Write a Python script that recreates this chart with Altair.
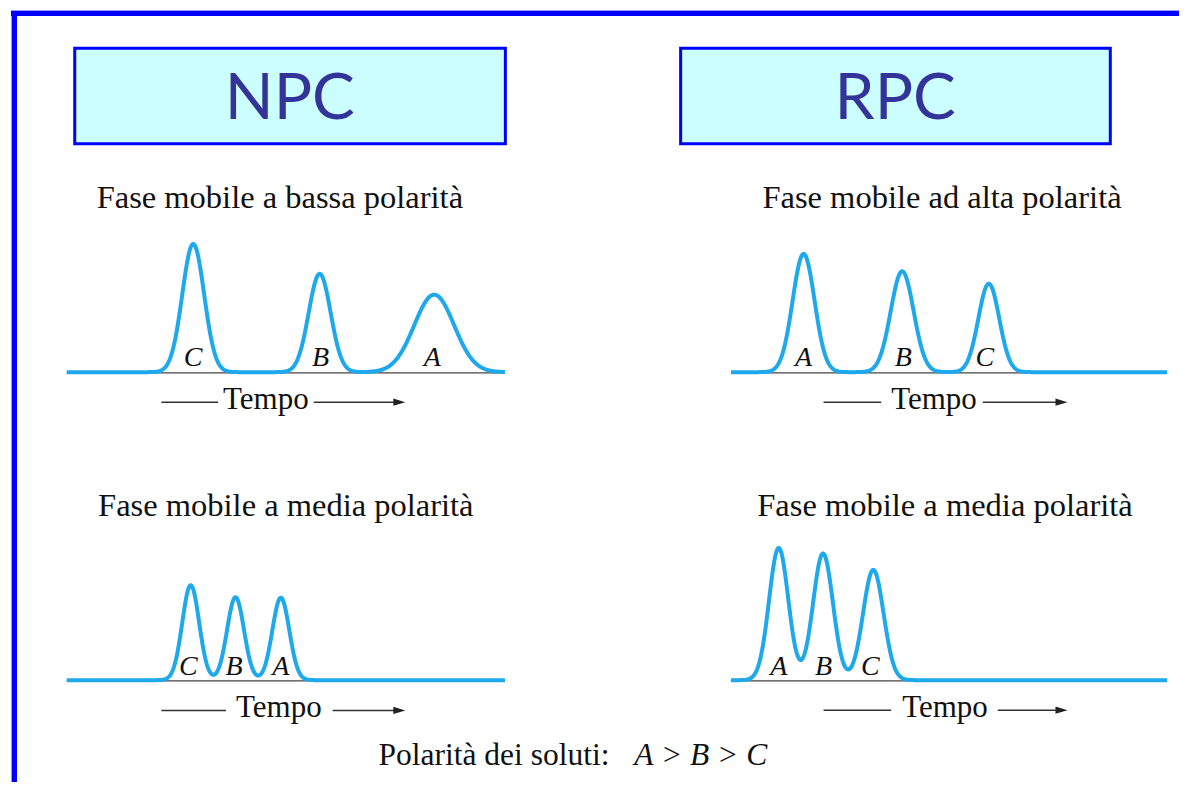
import altair as alt
import numpy as np
import pandas as pd

# ---------------- figure geometry (figure units = page pixels) ----------------
W, H = 1174, 777
XDOM = [8, 1182]
YDOM = [8, 785]

# ---------------- content ----------------
HEADER_TEXT = ["NPC", "RPC"]
HEADER_X = [289, 897]
HEADER_BOX_X0 = [73, 681.5]
HEADER_BOX_X1 = [505.5, 1113]

SUBTITLE_TEXT = [
    "Fase mobile a bassa polarità",
    "Fase mobile ad alta polarità",
    "Fase mobile a media polarità",
    "Fase mobile a media polarità",
]
SUBTITLE_X = [279, 944, 285, 947]
SUBTITLE_Y = [207, 207, 517, 517]

# chromatogram panels: top-left, top-right, bottom-left, bottom-right
BASELINE_Y = [372.5, 372.5, 682.5, 682.5]
BASELINE_X0 = [65, 732, 65, 732]
BASELINE_X1 = [505, 1170, 505, 1170]

PEAK_LABELS = [["C", "B", "A"], ["A", "B", "C"], ["C", "B", "A"], ["A", "B", "C"]]
PEAK_CENTERS = [[192, 319, 434], [805, 904, 991], [189.5, 234.5, 280], [780, 824.5, 875]]
PEAK_HEIGHTS = [[129, 99, 78], [119, 101.5, 89], [95.5, 83.5, 83], [133, 127.5, 111]]
PEAK_SIGMAS = [[11, 11, 20], [11, 11.5, 10.5], [8.5, 8.5, 8.5], [9.7, 10, 10.3]]
LABEL_X = [[192, 320, 432], [805, 905, 987], [187, 233, 280], [780, 825, 872]]
LABEL_Y = [366, 366, 677, 677]

TEMPO_X = [265, 936, 278, 947]
TEMPO_Y = [410, 410, 719.5, 720]
ARROW_Y = [402.7, 402.7, 713, 712.7]
ARROW_LEFT_X0 = [160, 825, 160, 825]
ARROW_LEFT_X1 = [217, 883, 225, 893]
ARROW_RIGHT_X0 = [313, 985, 332, 1000]
ARROW_RIGHT_X1 = [398, 1063, 398, 1063]
ARROW_TIP = [405, 1070, 405, 1070]

FOOT_TEXT = "Polarità dei soluti:"
FOOT_ITALIC = "A > B > C"

# ---------------- tables ----------------
rows = []
for p in range(4):
    xs_ = np.arange(BASELINE_X0[p], BASELINE_X1[p] + 0.01, 0.5)
    sig = np.zeros_like(xs_, dtype=float)
    for c, h, s in zip(PEAK_CENTERS[p], PEAK_HEIGHTS[p], PEAK_SIGMAS[p]):
        sig += h * np.exp(-0.5 * ((xs_ - c) / s) ** 2)
    for xv, yv in zip(xs_, BASELINE_Y[p] - sig):
        rows.append({"panel": p, "x": float(xv), "y": float(yv)})
curve = pd.DataFrame(rows)

axis_lines = pd.DataFrame({
    "x": BASELINE_X0, "x2": BASELINE_X1,
    "y": [b + 0.8 for b in BASELINE_Y], "y2": [b + 0.8 for b in BASELINE_Y],
})

labels = pd.DataFrame([
    {"x": LABEL_X[p][i], "y": LABEL_Y[p], "t": PEAK_LABELS[p][i]}
    for p in range(4) for i in range(3)
])

arrows = pd.DataFrame(
    [{"x": ARROW_LEFT_X0[p], "x2": ARROW_LEFT_X1[p], "y": ARROW_Y[p], "y2": ARROW_Y[p]} for p in range(4)]
    + [{"x": ARROW_RIGHT_X0[p], "x2": ARROW_RIGHT_X1[p], "y": ARROW_Y[p], "y2": ARROW_Y[p]} for p in range(4)]
)
heads = pd.DataFrame({"x": [t - 6 for t in ARROW_TIP], "y": ARROW_Y})
tempo = pd.DataFrame({"x": TEMPO_X, "y": TEMPO_Y, "t": ["Tempo"] * 4})
subs = pd.DataFrame({"x": SUBTITLE_X, "y": SUBTITLE_Y, "t": SUBTITLE_TEXT})
boxes = pd.DataFrame({"x": HEADER_BOX_X0, "x2": HEADER_BOX_X1, "y": [46.5, 46.5], "y2": [142.5, 142.5]})
heads_txt = pd.DataFrame({"x": HEADER_X, "y": [118, 118], "t": HEADER_TEXT})
frame = pd.DataFrame({"x": [9, 12.5], "x2": [1182, 12.5], "y": [11.5, 9], "y2": [11.5, 785]})
frame_edge = pd.DataFrame({"x": [9, 9.5], "x2": [1182, 9.5], "y": [8.5, 8.5], "y2": [8.5, 785]})
foot = pd.DataFrame({"x": [378], "y": [768], "t": [FOOT_TEXT]})
foot_i = pd.DataFrame({"x": [635], "y": [768], "t": [FOOT_ITALIC]})

# ---------------- encodings ----------------
XS = alt.Scale(domain=XDOM, nice=False, zero=False)
YS = alt.Scale(domain=YDOM, nice=False, zero=False, reverse=True)


def X(f="x"):
    return alt.X(f, type="quantitative", scale=XS, axis=None)


def Y(f="y"):
    return alt.Y(f, type="quantitative", scale=YS, axis=None)


def rules(df, color, width):
    return alt.Chart(df).mark_rule(color=color, strokeWidth=width, strokeCap="butt").encode(
        x=X(), x2="x2", y=Y(), y2="y2")


def texts(df, **kw):
    return alt.Chart(df).mark_text(**kw).encode(x=X(), y=Y(), text="t:N")


TXT = "#111111"

frame_layer = rules(frame_edge, "#9a9aff", 1) + rules(frame, "#0000ff", 5)

box_layer = alt.Chart(boxes).mark_rect(fill="#ccffff", stroke="#0000ff", strokeWidth=3).encode(
    x=X(), x2="x2", y=Y(), y2="y2")

head_layer = texts(heads_txt, font="Lato", fontSize=64, color="#333399",
                   align="center", baseline="alphabetic")

sub_layer = texts(subs, font="Liberation Serif", fontSize=32.5, color=TXT,
                  align="center", baseline="alphabetic")

axis_layer = rules(axis_lines, "#444444", 1.2)

curve_layer = alt.Chart(curve).mark_line(color="#1ea9ec", strokeWidth=4, strokeJoin="round").encode(
    x=X(), y=Y(), detail="panel:N", order="x:Q")

label_layer = texts(labels, font="Liberation Serif", fontSize=28, fontStyle="italic",
                    color=TXT, align="center", baseline="alphabetic")

arrow_layer = rules(arrows, "#333333", 1.5)
head_pts = alt.Chart(heads).mark_point(
    shape="M-1,-0.6L1,0L-1,0.6Z", size=144, filled=True, color="#222222", opacity=1
).encode(x=X(), y=Y())

tempo_layer = texts(tempo, font="Liberation Serif", fontSize=31, color=TXT,
                    align="center", baseline="alphabetic")

foot_layer = texts(foot, font="Liberation Serif", fontSize=31.5, color=TXT,
                   align="left", baseline="alphabetic")
foot_i_layer = texts(foot_i, font="Liberation Serif", fontSize=31.5, fontStyle="italic",
                     color=TXT, align="left", baseline="alphabetic")

chart = alt.layer(
    frame_layer, box_layer, head_layer, sub_layer, axis_layer, curve_layer,
    label_layer, arrow_layer, head_pts, tempo_layer, foot_layer, foot_i_layer
).properties(
    width=W, height=H,
    autosize=alt.AutoSizeParams(type="fit", contains="padding"),
    padding=0, background="white",
).configure_view(strokeWidth=0)

chart.save("out.html", embed_options={"renderer": "svg", "actions": False})
